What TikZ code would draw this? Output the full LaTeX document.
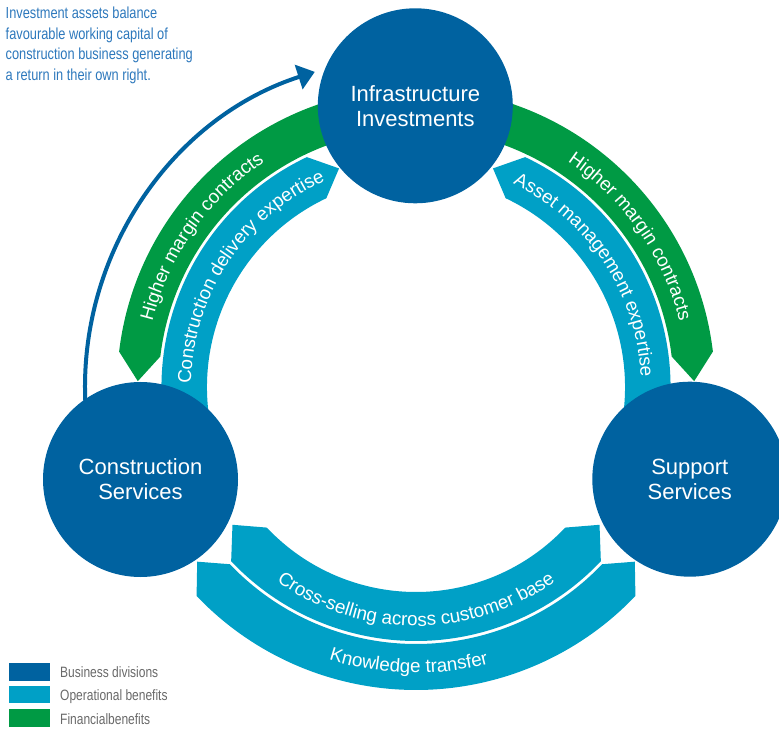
\documentclass[tikz,border=0pt]{standalone}
\usepackage{fontspec}
\setmainfont{Liberation Sans}
\newfontfamily\narrowfont[FakeStretch=0.8]{Liberation Sans}
\usetikzlibrary{arrows.meta,decorations.text}

\definecolor{divblue}{RGB}{0,98,160}
\definecolor{opblue}{RGB}{0,160,198}
\definecolor{fingreen}{RGB}{0,154,68}
\definecolor{notecol}{RGB}{45,120,188}
\definecolor{keygray}{RGB}{105,105,105}

% ring segment around the current origin:
% #1 colour, #2 inner radius, #3 outer radius, #4 start angle, #5 end angle,
% #6 / #7 angular offset of the pointed tip at the start / end (0 = flat end)
\newcommand{\ringband}[7]{%
  \fill[#1] (#4:#3) arc[start angle=#4, end angle=#5, radius=#3]
    -- ({#5+#7}:{(#2+#3)/2}) -- (#5:#2)
    arc[start angle=#5, end angle=#4, radius=#2]
    -- ({#4+#6}:{(#2+#3)/2}) -- cycle;}

\newcommand{\bandfont}{\fontsize{18.8}{18.8}\selectfont}

\begin{document}
\begin{tikzpicture}[x=1pt,y=1pt,
  division/.style={circle, fill=divblue, text=white, minimum size=195pt,
    inner sep=0pt, align=center, font=\fontsize{22}{25}\selectfont},
  bandtext/.style={decorate, decoration={text along path, text align=center,
    text color=white, text={|\bandfont|#1}}},
  looparrow/.style={draw=divblue, line width=4pt,
    -{Triangle[length=17pt,width=25pt]}},
  keybox/.style={fill=#1, minimum width=41.7pt, minimum height=17.7pt,
    inner sep=0pt, anchor=south west},
  keylabel/.style={text=keygray, font=\narrowfont\fontsize{15}{15}\selectfont,
    anchor=base west, inner sep=0pt},
  note/.style={text=notecol, font=\narrowfont\fontsize{16}{20.8}\selectfont,
    anchor=north west, align=left, inner sep=0pt},
]
\useasboundingbox (0,0) rectangle (779,729);
\clip (0,0) rectangle (779,729);
\coordinate (hub) at (416,342);

\begin{scope}[shift={(hub)}]
  % financial benefits: outer ring across the top
  \ringband{fingreen}{257.5}{299}{90}{173.2}{0}{5.6}
  \ringband{fingreen}{257.5}{299}{6.8}{90}{-5.6}{0}
  % operational benefits: inner ring on both sides
  \ringband{opblue}{209}{254.5}{205}{115.4}{0}{-6}
  \ringband{opblue}{209}{254.5}{-25}{64.6}{0}{6}
  % operational benefits: the two lower bands
  \ringband{opblue}{205}{254}{223.3}{316.7}{-6.4}{6.4}
  \ringband{opblue}{257}{303}{223.6}{316.4}{-5}{5}

  % band captions
  \path[bandtext={Higher margin contracts}]
    (177:271.5) arc[start angle=177, end angle=113, radius=271.5];
  \path[bandtext={Construction delivery expertise}]
    (181:225) arc[start angle=181, end angle=112, radius=225];
  \path[bandtext={Higher margin contracts}]
    (67:271.5) arc[start angle=67, end angle=3, radius=271.5];
  \path[bandtext={Asset management expertise}]
    (68:225) arc[start angle=68, end angle=-1, radius=225];
  \path[bandtext={Cross-selling across customer base}]
    (215:239) arc[start angle=215, end angle=325, radius=239];
  \path[bandtext={Knowledge transfer}]
    (233.5:286) arc[start angle=233.5, end angle=303.5, radius=286];

  % returns loop from construction to investments
  \coordinate (loopstart) at (184:331);
\end{scope}

\draw[looparrow] (loopstart) arc[start angle=184, end angle=107.8, radius=331];

% business divisions
\node[division] (infra) at (415.3,623.2) {Infrastructure\\Investments};
\node[division] (constr) at (140.5,249.5) {Construction\\Services};
\node[division] (support) at (689.8,249.8) {Support\\Services};

% note
\node[note] (remark) at (5.5,722.5) {Investment assets balance\\favourable working capital of\\construction business generating\\a return in their own right.};

% key
\node[keybox=divblue] (keydiv) at (8.3,48.3) {};
\node[keybox=opblue] (keyop) at (8.3,25.5) {};
\node[keybox=fingreen] (keyfin) at (8.3,1.8) {};
\node[keylabel] (keydivtext) at (60,51.3) {Business divisions};
\node[keylabel] (keyoptext) at (60,29) {Operational benefits};
\node[keylabel] (keyfintext) at (60,5) {Financialbenefits};
\end{tikzpicture}
\end{document}
